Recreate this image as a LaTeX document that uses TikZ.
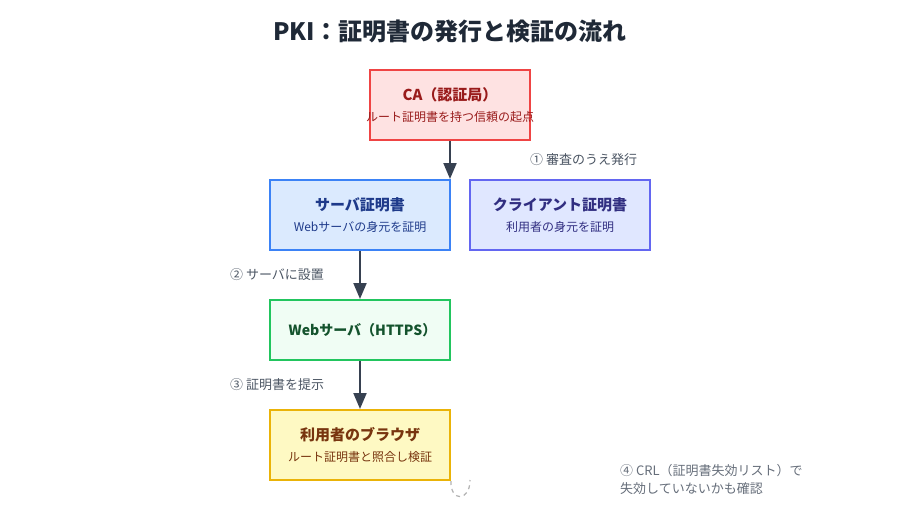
\documentclass[tikz,border=0pt]{standalone}
\usepackage{fontspec}
\setmainfont{Noto Sans CJK JP}
\usetikzlibrary{arrows.meta}

\definecolor{inkdark}{HTML}{1F2937}
\definecolor{linkgray}{HTML}{374151}
\definecolor{notegray}{HTML}{4B5563}
\definecolor{redfill}{HTML}{FEE2E2}\definecolor{redline}{HTML}{EF4444}\definecolor{redtext}{HTML}{991B1B}
\definecolor{bluefill}{HTML}{DBEAFE}\definecolor{blueline}{HTML}{3B82F6}\definecolor{bluetext}{HTML}{1E3A8A}
\definecolor{indfill}{HTML}{E0E7FF}\definecolor{indline}{HTML}{6366F1}\definecolor{indtext}{HTML}{312E81}
\definecolor{grnfill}{HTML}{F0FDF4}\definecolor{grnline}{HTML}{22C55E}\definecolor{grntext}{HTML}{14532D}
\definecolor{ylwfill}{HTML}{FEF9C3}\definecolor{ylwline}{HTML}{EAB308}\definecolor{ylwtext}{HTML}{78350F}

\newcommand{\boxsub}{\fontsize{12}{16}\selectfont\mdseries}

\begin{document}
\begin{tikzpicture}[x=1pt,y=-1pt,
  box/.style={draw,line width=2pt,minimum width=180pt,minimum height=70pt,
    align=center,inner sep=0pt,font=\fontsize{15}{23}\selectfont\bfseries},
  flow/.style={-{Triangle[length=16pt,width=13pt]},line width=2pt,draw=linkgray},
  note/.style={font=\fontsize{13}{18}\selectfont,text=notegray,inner sep=0pt}]

\useasboundingbox (0,0) rectangle (900,520);

\node[font=\fontsize{24}{28}\selectfont\bfseries,text=inkdark] (title) at (450,31) {PKI：証明書の発行と検証の流れ};

% boxes
\node[box,minimum width=160pt,fill=redfill,draw=redline,text=redtext] (ca) at (450,105)
  {CA（認証局）\\[-2pt]{\boxsub\makebox[0pt]{ルート証明書を持つ信頼の起点}}};
\node[box,fill=bluefill,draw=blueline,text=bluetext] (srv) at (360,215)
  {サーバ証明書\\[-2pt]{\boxsub Webサーバの身元を証明}};
\node[box,fill=indfill,draw=indline,text=indtext] (cli) at (560,215)
  {クライアント証明書\\[-2pt]{\boxsub 利用者の身元を証明}};
\node[box,minimum height=60pt,fill=grnfill,draw=grnline,text=grntext,
  font=\fontsize{14}{20}\selectfont\bfseries] (web) at (360,330)
  {\hspace*{5pt}Webサーバ（HTTPS）};
\node[box,fill=ylwfill,draw=ylwline,text=ylwtext] (brw) at (360,445)
  {利用者のブラウザ\\[-2pt]{\boxsub ルート証明書と照合し検証}};

% arrows
\draw[flow] (ca.south) -- (ca.south|-srv.north);
\draw[flow] (srv) -- (web);
\draw[flow] (web) -- (brw);

\node[note,anchor=west] (n1) at (530,160) {① 審査のうえ発行};
\node[note,anchor=west] (n2) at (230,275) {② サーバに設置};
\node[note,anchor=west] (n3) at (230,385) {③ 証明書を提示};
\node[note,anchor=north west,align=left,text=notegray!85] (n4) at (620,464)
  {④ CRL（証明書失効リスト）で\\失効していないかも確認};

% dashed loop
\coordinate (lpend) at (470,480);
\draw[line width=1.2pt,draw=gray!60,dash pattern=on 4pt off 4pt] (brw.south east)
  .. controls (450,502) and (470,502) .. (lpend);
\end{tikzpicture}
\end{document}
